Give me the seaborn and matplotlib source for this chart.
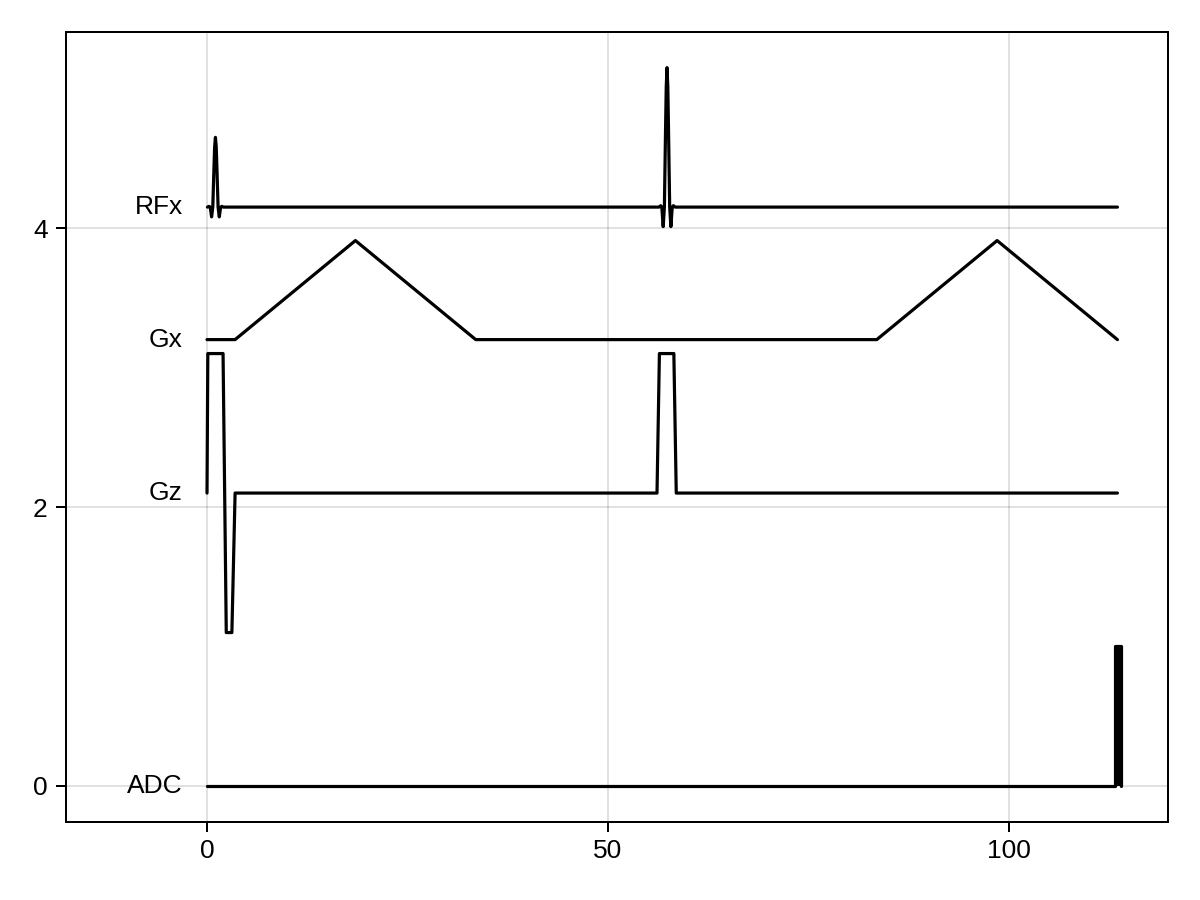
import numpy as np
import pandas as pd
import matplotlib
matplotlib.use('Agg')
import matplotlib.pyplot as plt
import seaborn as sns

# ── Sequence traces (time in ms, amplitude normalised) ──
# RF pulse shape, offsets from pulse centre
rf_shape_dt = [-1.0, -0.8, -0.65, -0.48, -0.33, -0.2, -0.1, 0.0,
               0.1, 0.2, 0.33, 0.48, 0.65, 0.8, 1.0]
rf_shape_v = [0.0, 0.01, 0.0, -0.14, 0.0, 0.5, 0.86, 1.0,
              0.86, 0.5, 0.0, -0.14, 0.0, 0.01, 0.0]
rf_centres = [1.05, 57.35]
rf_amps = [0.5, 1.0]
rf_end = 113.5

gx_t = [0.0, 3.5, 18.5, 33.5, 83.5, 98.5, 113.5]
gx_v = [0.0, 0.0, 0.71, 0.0, 0.0, 0.71, 0.0]

gz_t = [0.0, 0.1, 2.0, 2.4, 3.1, 3.5, 56.1, 56.4, 58.2, 58.5, 113.5]
gz_v = [0.0, 1.0, 1.0, -1.0, -1.0, 0.0, 0.0, 1.0, 1.0, 0.0, 0.0]

adc_t = [0.0, 113.2, 113.2, 113.9, 113.9]
adc_v = [0.0, 0.0, 1.0, 1.0, 0.0]

labels = ['RFx', 'Gx', 'Gz', 'ADC']
offsets = [4.15, 3.2, 2.1, 0.0]

# build RF trace from the listed pulse samples
rf_t, rf_v = [], []
for c, a in zip(rf_centres, rf_amps):
    rf_t += [c + d for d in rf_shape_dt]
    rf_v += [a * v for v in rf_shape_v]
rf_t.append(rf_end)
rf_v.append(0.0)

traces = {
    'RFx': (rf_t, rf_v),
    'Gx': (gx_t, gx_v),
    'Gz': (gz_t, gz_v),
    'ADC': (adc_t, adc_v),
}

rows = []
for name, off in zip(labels, offsets):
    t, v = traces[name]
    for i, (ti, vi) in enumerate(zip(t, v)):
        rows.append({'trace': name, 'i': i, 't': ti, 'y': vi + off})
df = pd.DataFrame(rows)

# ── Style ───────────────────────────────────
sns.set_theme(style='white')
plt.rcParams['font.family'] = ['Liberation Sans', 'DejaVu Sans']
plt.rcParams['text.color'] = 'black'

fig = plt.figure(figsize=(12, 9), dpi=100)
ax = fig.add_axes([0.055, 0.0867, 0.9183, 0.8777])

for name in labels:
    sub = df[df['trace'] == name]
    sns.lineplot(data=sub, x='t', y='y', sort=False, estimator=None,
                 color='black', linewidth=2.3, ax=ax)

# ADC block is drawn filled
ax.fill_between(adc_t, adc_v, 0, color='black', linewidth=0)

for name, off in zip(labels, offsets):
    ax.text(-3, off, name, ha='right', va='center', fontsize=19,
            color='black')

ax.set_xlim(-17.58, 119.8)
ax.set_ylim(-0.258, 5.405)
ax.set_xticks([0, 50, 100])
ax.set_yticks([0, 2, 4])
ax.set_xlabel('')
ax.set_ylabel('')
ax.grid(True, color='black', alpha=0.12, linewidth=1.4)
ax.set_axisbelow(True)
for s in ax.spines.values():
    s.set_color('black')
    s.set_linewidth(1.44)
ax.tick_params(axis='both', direction='out', length=7.2, width=1.44,
               colors='black', labelsize=19, bottom=True, left=True)
ax.tick_params(axis='x', pad=5)
ax.tick_params(axis='y', pad=6)

fig.savefig('out.png', dpi=100)
